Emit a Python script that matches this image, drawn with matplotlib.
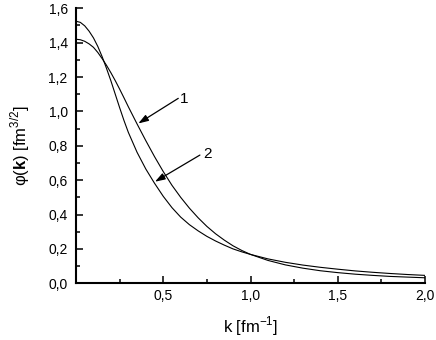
import numpy as np
import matplotlib
matplotlib.use("Agg")
import matplotlib.pyplot as plt
from matplotlib.ticker import MultipleLocator, FuncFormatter

plt.rcParams['font.family'] = ['Liberation Sans', 'DejaVu Sans']
plt.rcParams['mathtext.fontset'] = 'custom'
plt.rcParams['mathtext.rm'] = 'Liberation Sans'
plt.rcParams['mathtext.bf'] = 'Liberation Sans:bold'

# curve 1 (flatter at k=0)
k1 = [0.0, 0.025, 0.05, 0.075, 0.10, 0.125, 0.15, 0.175, 0.20, 0.225, 0.25,
      0.275, 0.30, 0.35, 0.40, 0.45, 0.50,
      0.55, 0.60, 0.65, 0.70, 0.75, 0.80, 0.85, 0.90, 0.95, 1.00,
      1.10, 1.20, 1.30, 1.40, 1.50, 1.60, 1.70, 1.80, 1.90, 2.00]
phi1 = [1.420, 1.417, 1.408, 1.393, 1.373, 1.343, 1.307, 1.268, 1.225, 1.179, 1.130,
        1.079, 1.027, 0.927, 0.830, 0.737, 0.650,
        0.570, 0.500, 0.437, 0.381, 0.331, 0.288, 0.251, 0.218, 0.191, 0.168,
        0.133, 0.107, 0.088, 0.073, 0.062, 0.053, 0.046, 0.040, 0.036, 0.032]

# curve 2 (peaked at k=0)
k2 = [0.0, 0.025, 0.05, 0.075, 0.10, 0.125, 0.15, 0.175, 0.20, 0.225, 0.25,
      0.275, 0.30, 0.35, 0.40, 0.45, 0.50,
      0.55, 0.60, 0.65, 0.70, 0.75, 0.80, 0.85, 0.90, 0.95, 1.00,
      1.10, 1.20, 1.30, 1.40, 1.50, 1.60, 1.70, 1.80, 1.90, 2.00]
phi2 = [1.525, 1.518, 1.498, 1.467, 1.428, 1.378, 1.318, 1.250, 1.178, 1.100, 1.022,
        0.947, 0.878, 0.762, 0.665, 0.582, 0.506,
        0.440, 0.385, 0.341, 0.305, 0.273, 0.246, 0.222, 0.200, 0.183, 0.168,
        0.142, 0.122, 0.106, 0.093, 0.082, 0.072, 0.064, 0.057, 0.051, 0.046]

fig = plt.figure(figsize=(4.36, 3.40), dpi=100)
ax = fig.add_axes([0.1743, 0.1668, 0.8005, 0.8088])

ax.plot(k1, phi1, color='black', lw=0.8)
ax.plot(k2, phi2, color='black', lw=0.8)

arrow = dict(arrowstyle='-|>,head_length=0.6,head_width=0.2', color='black',
             lw=0.9, shrinkA=0, shrinkB=0)
ax.annotate('', xy=(0.357, 0.93), xytext=(0.586, 1.076), arrowprops=arrow)
ax.text(0.619, 1.071, '1', ha='center', va='center', fontsize=11)
ax.annotate('', xy=(0.4525, 0.591), xytext=(0.71, 0.746), arrowprops=arrow)
ax.text(0.753, 0.751, '2', ha='center', va='center', fontsize=11)

ax.set_xlim(0, 2.0)
ax.set_ylim(0, 1.6)
ax.xaxis.set_major_locator(MultipleLocator(0.5))
ax.xaxis.set_minor_locator(MultipleLocator(0.25))
ax.yaxis.set_major_locator(MultipleLocator(0.2))
ax.yaxis.set_minor_locator(MultipleLocator(0.1))

comma = lambda v, p: ('%.1f' % v).replace('.', ',')
ax.yaxis.set_major_formatter(FuncFormatter(comma))
ax.xaxis.set_major_formatter(FuncFormatter(lambda v, p: '' if v == 0 else comma(v, p)))

for s in ['top', 'right']:
    ax.spines[s].set_visible(False)
for s in ['left', 'bottom']:
    ax.spines[s].set_linewidth(1.5)

ax.tick_params(which='major', direction='in', length=5, width=1.1, labelsize=10)
ax.tick_params(which='minor', direction='in', length=3, width=1.1)
ax.tick_params(axis='y', which='major', pad=6)
ax.tick_params(axis='x', which='major', pad=4)

ax.set_xlabel('k [fm$^{-1}$]', fontsize=12, labelpad=8)
ax.set_ylabel(r'φ($\mathbf{k}$) [fm$^{3/2}$]', fontsize=12, labelpad=12)

fig.savefig('out.png', dpi=100)
